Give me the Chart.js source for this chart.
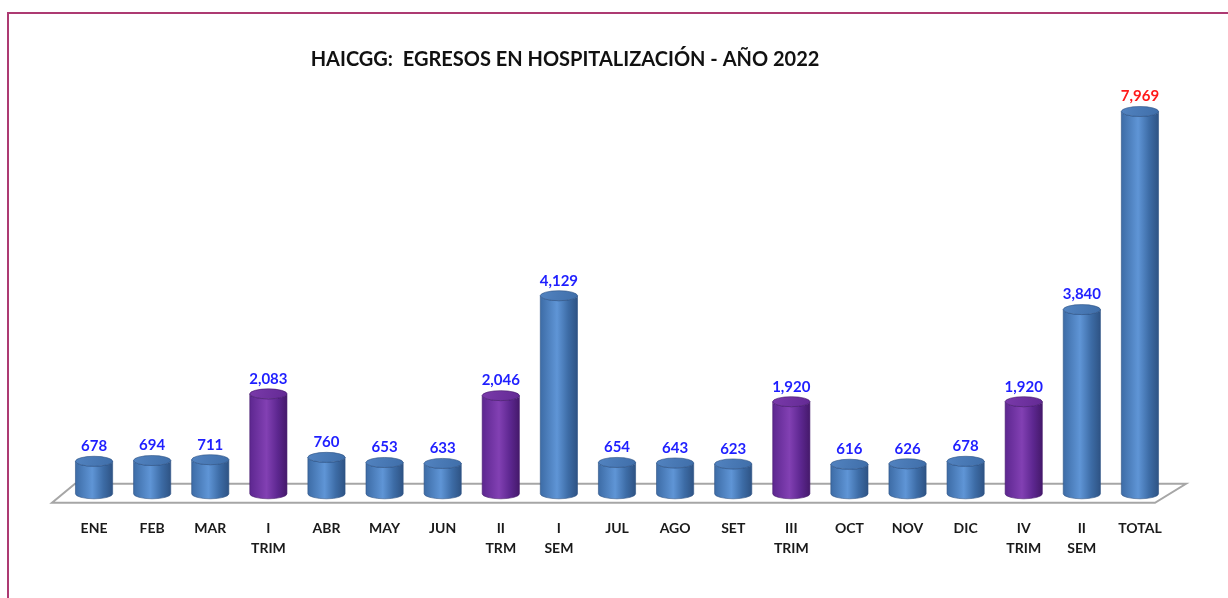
<!DOCTYPE html>
<html>
<head>
<meta charset="utf-8">
<script src="https://cdn.jsdelivr.net/npm/chart.js@4.4.1/dist/chart.umd.min.js"></script>
<style>
  html,body{margin:0;padding:0;background:#fff;overflow:hidden}
  #wrap{position:relative;width:1228px;height:598px}
  #frame{position:absolute;left:7px;top:12px;width:1240px;height:600px;border-left:2px solid #ad3a72;border-top:2px solid #ad3a72;box-sizing:border-box}
  canvas{position:absolute;left:0;top:0}
</style>
</head>
<body>
<div id="wrap">
  <div id="frame"></div>
  <canvas id="c" width="1228" height="598"></canvas>
</div>
<script>
// data
const labels = ['ENE','FEB','MAR',['I','TRIM'],'ABR','MAY','JUN',['II','TRM'],['I','SEM'],
  'JUL','AGO','SET',['III','TRIM'],'OCT','NOV','DIC',['IV','TRIM'],['II','SEM'],'TOTAL'];
const egresos = [678,694,711,2083,760,653,633,2046,4129,654,643,623,1920,616,626,678,1920,3840,7969];
const titulo = 'HAICGG:  EGRESOS EN HOSPITALIZACIÓN - AÑO 2022';

const FONT = 'Lato, "Liberation Sans", sans-serif';
const BLUE = {edge:'#2e5384', left:'#3d6ca6', light:'#5f95d6', cap:'#3f6ea9', capHi:'#5283c0'};
const PURPLE = {edge:'#45196b', left:'#5d2790', light:'#8240b3', cap:'#632a94', capHi:'#7a3aaa'};

function isTrim(l){ return Array.isArray(l) && /^TR/.test(l[1]); }

function cylinder(ctx, x, top, base, w, pal){
  const rx = w/2, ry = 5;
  const g = ctx.createLinearGradient(x-rx,0,x+rx,0);
  g.addColorStop(0, pal.left);
  g.addColorStop(0.45, pal.light);
  g.addColorStop(0.75, pal.left);
  g.addColorStop(1, pal.edge);
  ctx.beginPath();
  ctx.moveTo(x-rx, top);
  ctx.lineTo(x-rx, base);
  ctx.ellipse(x, base, rx, ry, 0, Math.PI, 0, true);
  ctx.lineTo(x+rx, top);
  ctx.ellipse(x, top, rx, ry, 0, 0, Math.PI, false);
  ctx.closePath();
  ctx.fillStyle = g;
  ctx.fill();
  ctx.strokeStyle = pal.edge;
  ctx.lineWidth = 0.6;
  ctx.stroke();
  // top cap
  const cg = ctx.createLinearGradient(x-rx,top-ry,x+rx,top+ry);
  cg.addColorStop(0, pal.capHi);
  cg.addColorStop(1, pal.cap);
  ctx.beginPath();
  ctx.ellipse(x, top, rx, ry, 0, 0, Math.PI*2);
  ctx.fillStyle = cg;
  ctx.fill();
  ctx.stroke();
}

const cylinders = {
  id:'cylinders',
  beforeDatasetsDraw(chart){
    const {ctx, chartArea:a} = chart;
    const base = chart.scales.y.getPixelForValue(0);
    ctx.save();
    ctx.beginPath();
    ctx.moveTo(a.left-13, base+9);
    ctx.lineTo(a.right-14, base+9);
    ctx.lineTo(a.right+17, base-10);
    ctx.lineTo(a.left+10, base-10);
    ctx.closePath();
    ctx.fillStyle = '#fff';
    ctx.fill();
    ctx.strokeStyle = '#a6a6a6';
    ctx.lineWidth = 2;
    ctx.stroke();
    ctx.restore();
  },
  afterDatasetsDraw(chart){
    const ctx = chart.ctx;
    const meta = chart.getDatasetMeta(0);
    ctx.save();
    meta.data.forEach((el,i)=>{
      const pal = isTrim(labels[i]) ? PURPLE : BLUE;
      cylinder(ctx, el.x, el.y, el.base, el.width, pal);
      ctx.font = 'bold 15px ' + FONT;
      ctx.textAlign = 'center';
      ctx.textBaseline = 'middle';
      ctx.fillStyle = (i === labels.length-1) ? '#ff1a1a' : '#1f1fff';
      ctx.fillText(egresos[i].toLocaleString('en-US'), el.x, el.y-15);
    });
    // title (centered like the original, left of canvas middle)
    ctx.font = 'bold 20px ' + FONT;
    ctx.fillStyle = '#111';
    ctx.textAlign = 'center';
    ctx.textBaseline = 'middle';
    ctx.fillText(titulo, 565, 60);
    ctx.restore();
  }
};

new Chart(document.getElementById('c'), {
  type:'bar',
  data:{labels, datasets:[{data:egresos, backgroundColor:'rgba(0,0,0,0)', borderWidth:0,
    categoryPercentage:1, barPercentage:0.64}]},
  options:{
    responsive:false, animation:false,
    events:[],
    layout:{padding:{left:65, right:59, top:86, bottom:23}},
    plugins:{
      legend:{display:false}, tooltip:{enabled:false}, title:{display:false}
    },
    scales:{
      y:{display:false, min:0, max:8500},
      x:{grid:{display:false}, border:{display:false},
        ticks:{color:'#1a1a1a', padding:17, maxRotation:0, autoSkip:false,
          font:{family:FONT, size:14, weight:'bold', lineHeight:1.4}}}
    }
  },
  plugins:[cylinders]
});
</script>
</body>
</html>
